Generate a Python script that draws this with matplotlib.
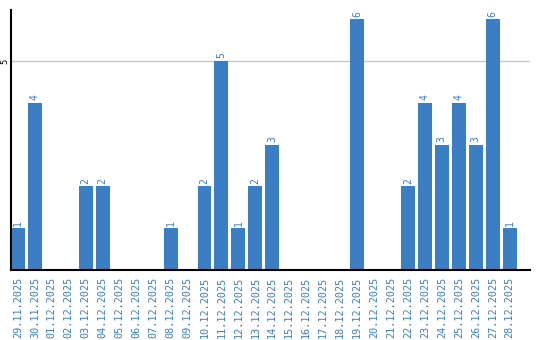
import matplotlib
matplotlib.use('Agg')
import numpy as np
from matplotlib import pyplot as plt

dates = ['29.11.2025', '30.11.2025', '01.12.2025', '02.12.2025', '03.12.2025',
         '04.12.2025', '05.12.2025', '06.12.2025', '07.12.2025', '08.12.2025',
         '09.12.2025', '10.12.2025', '11.12.2025', '12.12.2025', '13.12.2025',
         '14.12.2025', '15.12.2025', '16.12.2025', '17.12.2025', '18.12.2025',
         '19.12.2025', '20.12.2025', '21.12.2025', '22.12.2025', '23.12.2025',
         '24.12.2025', '25.12.2025', '26.12.2025', '27.12.2025', '28.12.2025']
counts = [1, 4, 0, 0, 2, 2, 0, 0, 0, 1,
          0, 2, 5, 1, 2, 3, 0, 0, 0, 0,
          6, 0, 0, 2, 4, 3, 4, 3, 6, 1]

blue = '#3b7ec4'

fig = plt.figure(figsize=(5.4, 3.4), dpi=100)
ax = fig.add_axes([11/540, 70/340, 519/540, 260/340])

x = np.arange(len(dates))
ax.bar(x, counts, width=0.82, color=blue, zorder=2)
for i, v in enumerate(counts):
    if v > 0:
        ax.text(i, v + 0.06, str(v), rotation=90, ha='center', va='bottom',
                color=blue, fontsize=7, family='DejaVu Sans Mono')

ax.set_xlim(-0.41, 30.2)
ax.set_ylim(0, 6.22)
ax.set_yticks([5])
ax.set_yticklabels(['5'], rotation=90, va='center', ha='right', fontsize=6)
ax.tick_params(axis='y', length=0, pad=1.5)
ax.yaxis.grid(True, color='#c8c8c8', linewidth=1, zorder=0)

ax.set_xticks(x)
ax.set_xticklabels(dates, rotation=90, color=blue, fontsize=7.3,
                   family='DejaVu Sans Mono')
ax.tick_params(axis='x', length=0, pad=5)

for s in ['top', 'right']:
    ax.spines[s].set_visible(False)
ax.spines['left'].set_color('black')
ax.spines['bottom'].set_color('black')
ax.spines['left'].set_linewidth(1.5)
ax.spines['bottom'].set_linewidth(1.5)

fig.savefig('out.png', dpi=100)
